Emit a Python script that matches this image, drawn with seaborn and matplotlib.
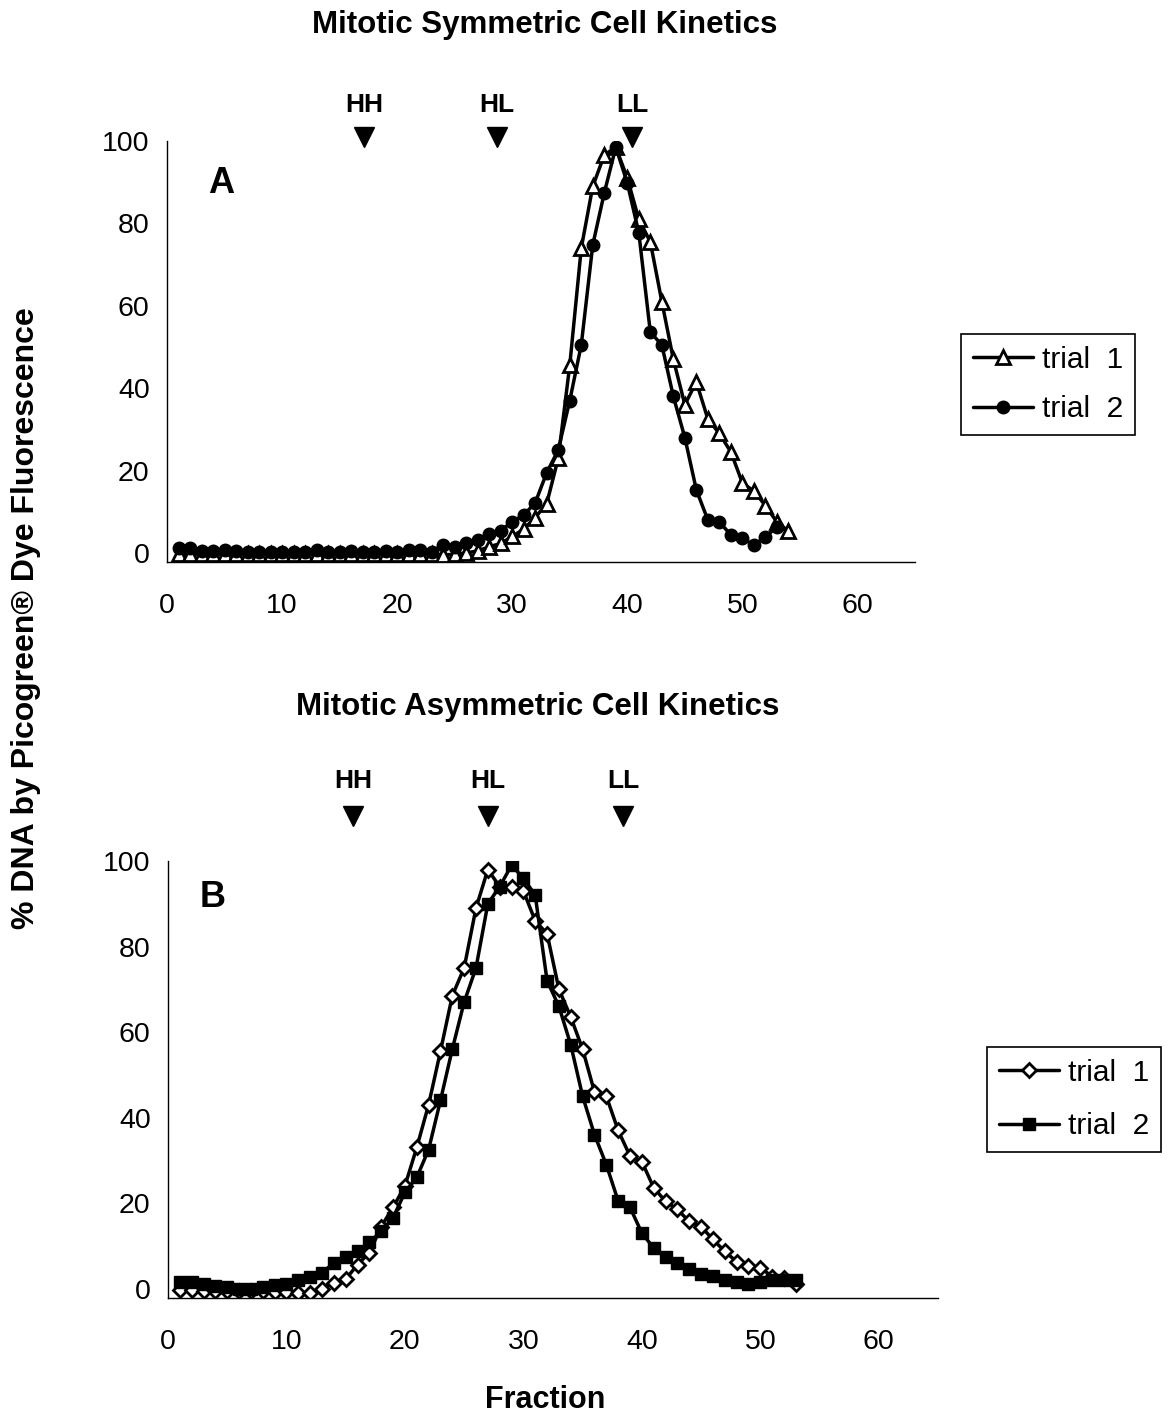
import matplotlib
matplotlib.use("Agg")
import matplotlib.pyplot as plt
import seaborn as sns
import numpy as np

# ---------------- data ----------------
sym_frac_t1 = list(range(1, 55))
sym_trial1 = [-0.3, -0.3, -0.3, -0.3, -0.3, -0.3, -0.3, -0.3, -0.3, -0.3,
              -0.3, -0.3, -0.3, -0.3, -0.3, -0.3, -0.3, -0.3, -0.3, -0.3,
              -0.3, -0.3, -0.3, -0.5, -0.3, 0.0, 0.5, 1.5, 2.3, 4.0,
              5.8, 8.6, 12.0, 23.0, 45.6, 74.0, 89.0, 96.6, 98.5, 91.0,
              81.0, 75.5, 61.0, 47.0, 36.0, 41.5, 32.5, 29.0, 24.5, 17.0,
              15.0, 11.5, 7.5, 5.3]
sym_frac_t2 = list(range(1, 54))
sym_trial2 = [1.2, 1.2, 0.5, 0.5, 0.8, 0.5, 0.3, 0.3, 0.3, 0.3,
              0.3, 0.3, 0.8, 0.3, 0.3, 0.5, 0.3, 0.3, 0.5, 0.3,
              0.8, 0.8, 0.3, 2.0, 1.5, 2.4, 3.2, 4.7, 5.4, 7.6,
              9.2, 12.2, 19.5, 25.0, 37.0, 50.5, 74.8, 87.4, 98.5, 89.8,
              77.7, 53.6, 50.5, 38.0, 28.0, 15.3, 8.0, 7.5, 4.4, 3.6,
              1.9, 3.9, 6.3]

asym_frac = list(range(1, 54))
asym_trial1 = [-0.3, -0.3, -0.5, -0.5, -0.5, -0.5, -0.5, -0.5, -0.8, -0.8,
               -1.0, -1.0, 0.0, 1.4, 2.2, 5.6, 8.4, 14.5, 19.0, 24.0,
               33.0, 43.0, 55.5, 68.5, 75.0, 89.0, 98.0, 94.0, 94.0, 93.0,
               86.0, 83.0, 70.0, 63.5, 56.0, 46.0, 45.0, 37.0, 31.0, 29.7,
               23.6, 20.4, 18.5, 15.7, 14.5, 11.5, 8.7, 6.3, 5.2, 4.9,
               2.8, 2.5, 1.0]
asym_trial2 = [1.5, 1.5, 1.0, 0.5, 0.3, 0.0, 0.0, 0.3, 0.8, 1.0,
               2.0, 2.6, 3.7, 6.0, 7.5, 8.7, 10.8, 13.4, 16.6, 22.5,
               26.0, 32.5, 44.0, 56.0, 67.0, 75.0, 90.0, 94.0, 99.0, 96.0,
               92.0, 72.0, 66.0, 57.0, 45.0, 36.0, 29.0, 20.5, 19.0, 13.0,
               9.5, 7.5, 6.0, 4.5, 3.5, 3.0, 2.0, 1.5, 1.0, 1.5,
               2.0, 2.0, 2.0]

band_labels = ["HH", "HL", "LL"]
band_pos_sym = [17.1, 28.7, 40.4]
band_pos_asym = [15.6, 27.0, 38.4]

legend_labels = ["trial  1", "trial  2"]
x_ticks = [0, 10, 20, 30, 40, 50, 60]
y_ticks = [0, 20, 40, 60, 80, 100]

# ---------------- style ----------------
sns.set_theme(style="white")
plt.rcParams["font.family"] = ["Liberation Sans", "DejaVu Sans"]
plt.rcParams["text.color"] = "black"
plt.rcParams["axes.labelcolor"] = "black"
plt.rcParams["xtick.color"] = "black"
plt.rcParams["ytick.color"] = "black"
plt.rcParams["legend.labelcolor"] = "black"

W, H = 1172, 1416
fig = plt.figure(figsize=(W / 100, H / 100), dpi=100)


def fx(px):
    return px / W


def fy(py):
    return 1 - py / H


ax1 = fig.add_axes([fx(167), fy(562), fx(915 - 167), (562 - 141) / H])
ax2 = fig.add_axes([fx(168), fy(1298), fx(938 - 168), (1298 - 861) / H])

LW = 2.5


def style_axes(ax):
    ax.set_xlim(0, 65)
    ax.set_ylim(-2.2, 100)
    ax.set_xticks(x_ticks)
    ax.set_yticks(y_ticks)
    for s in ["top", "right"]:
        ax.spines[s].set_visible(False)
    for s in ["left", "bottom"]:
        ax.spines[s].set_color("black")
        ax.spines[s].set_linewidth(1.0)
    ax.tick_params(axis="x", direction="out", length=5, width=1.0, pad=17,
                   labelsize=20.5, colors="black")
    ax.tick_params(axis="y", direction="out", length=6.5, width=1.0, pad=6,
                   labelsize=20.5, colors="black")
    ax.set_xlabel("")
    ax.set_ylabel("")
    ax.grid(False)
    ax.set_facecolor("white")


# ----- top panel -----
sns.lineplot(x=sym_frac_t1, y=sym_trial1, ax=ax1, color="black", lw=LW,
             marker="^", markersize=9.5, markerfacecolor="white",
             markeredgecolor="black", markeredgewidth=2.0, label=legend_labels[0],
             estimator=None, sort=False)
sns.lineplot(x=sym_frac_t2, y=sym_trial2, ax=ax1, color="black", lw=LW,
             marker="o", markersize=9, markerfacecolor="black",
             markeredgecolor="black", markeredgewidth=1.0, label=legend_labels[1],
             estimator=None, sort=False)
style_axes(ax1)

# ----- bottom panel -----
sns.lineplot(x=asym_frac, y=asym_trial1, ax=ax2, color="black", lw=LW,
             marker="D", markersize=6.8, markerfacecolor="white",
             markeredgecolor="black", markeredgewidth=2.0, label=legend_labels[0],
             estimator=None, sort=False)
sns.lineplot(x=asym_frac, y=asym_trial2, ax=ax2, color="black", lw=LW,
             marker="s", markersize=9, markerfacecolor="black",
             markeredgecolor="black", markeredgewidth=1.0, label=legend_labels[1],
             estimator=None, sort=False)
style_axes(ax2)

# band markers
for lab, xp in zip(band_labels, band_pos_sym):
    ax1.plot([xp], [100.85], marker="v", ms=14, color="black", clip_on=False, ls="none")
    ax1.text(xp, 107.0, lab, ha="center", va="baseline", fontsize=19,
             fontweight="bold", clip_on=False)
for lab, xp in zip(band_labels, band_pos_asym):
    ax2.plot([xp], [110.5], marker="v", ms=14, color="black", clip_on=False, ls="none")
    ax2.text(xp, 117.0, lab, ha="center", va="baseline", fontsize=19,
             fontweight="bold", clip_on=False)

# panel letters
ax1.text(3.6, 87.4, "A", ha="left", va="baseline", fontsize=26, fontweight="bold")
ax2.text(2.7, 89.3, "B", ha="left", va="baseline", fontsize=26, fontweight="bold")

# legends
for ax, ax_anchor, lsp in [(ax1, (fx(961), fy(334)), 0.72),
                           (ax2, (fx(987), fy(1047)), 0.85)]:
    leg = ax.legend(loc="upper left", bbox_to_anchor=ax_anchor,
                    bbox_transform=fig.transFigure, borderaxespad=0,
                    fontsize=21.5, frameon=True, fancybox=False, shadow=False,
                    handlelength=2.0, handletextpad=0.3, labelspacing=lsp,
                    borderpad=0.4)
    fr = leg.get_frame()
    fr.set_edgecolor("black")
    fr.set_linewidth(1.2)
    fr.set_facecolor("white")
    fr.set_alpha(1)

# titles and axis labels
fig.text(fx(545), fy(33), "Mitotic Symmetric Cell Kinetics", ha="center",
         va="baseline", fontsize=22.5, fontweight="bold")
fig.text(fx(538), fy(715), "Mitotic Asymmetric Cell Kinetics", ha="center",
         va="baseline", fontsize=22.5, fontweight="bold")
fig.text(fx(545), fy(1408), "Fraction", ha="center", va="baseline",
         fontsize=22, fontweight="bold")
fig.text(fx(26), fy(618), "% DNA by Picogreen® Dye Fluorescence", ha="center",
         va="center", rotation=90, fontsize=23, fontweight="bold")

fig.savefig("out.png", dpi=100, facecolor="white")
